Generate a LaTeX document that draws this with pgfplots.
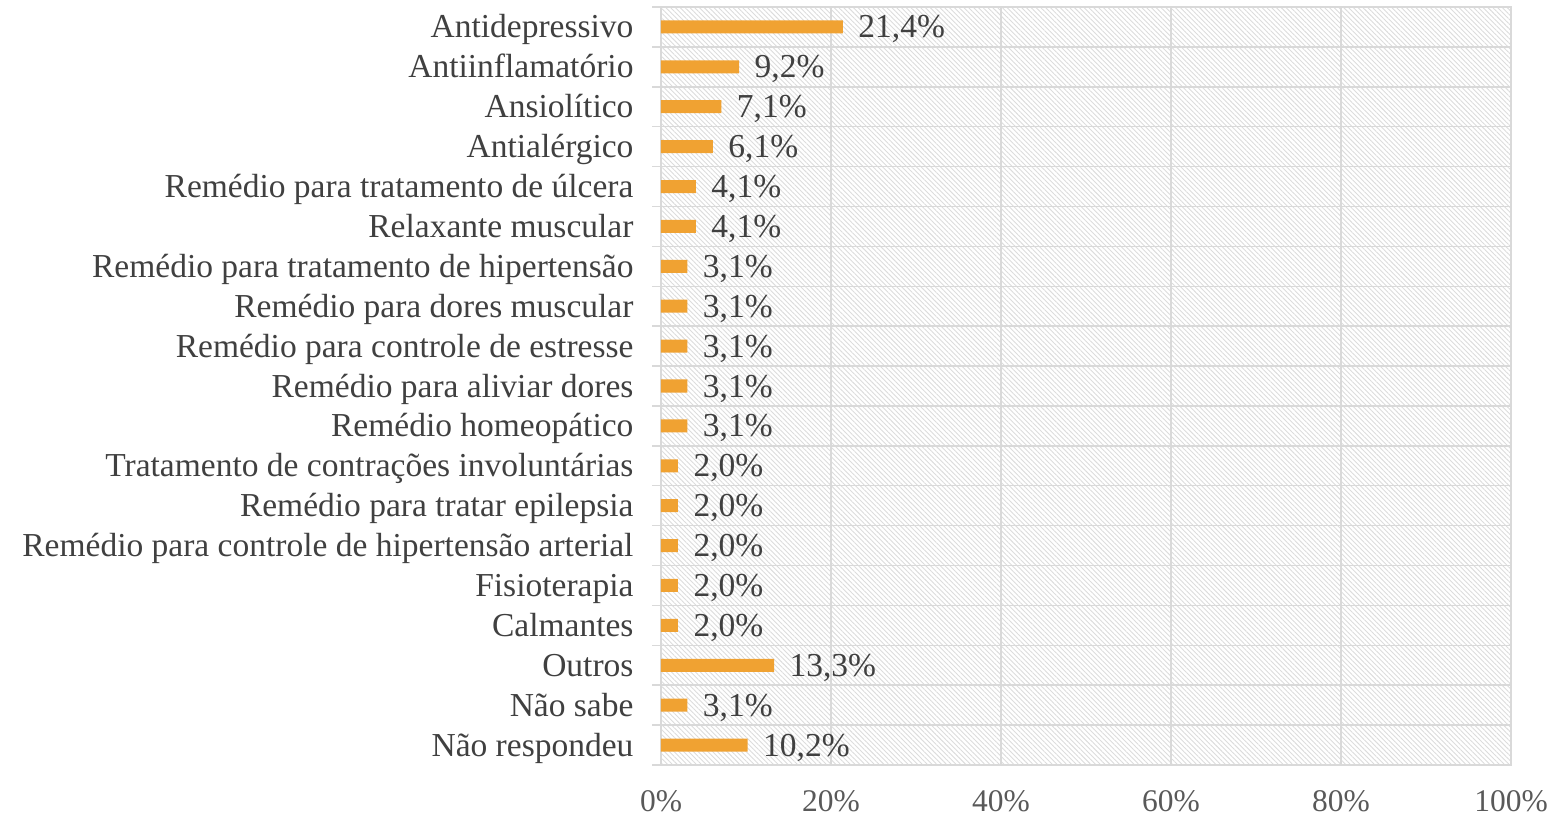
\documentclass[border=0pt]{standalone}
\usepackage{fontspec}
\setmainfont{Liberation Serif}
\usepackage{pgfplots}
\pgfplotsset{compat=1.18}
\usetikzlibrary{patterns.meta}
\definecolor{barc}{HTML}{F0A232}
\definecolor{txt}{HTML}{404040}
\definecolor{tck}{HTML}{595959}
\definecolor{grd}{HTML}{D9D9D9}
\definecolor{hatch}{HTML}{DCDCDC}
\begin{document}
\begin{tikzpicture}[x=1pt,y=1pt]
\useasboundingbox (0,0) rectangle (1564,818);
\begin{axis}[
  at={(661pt,53pt)}, anchor=south west,
  scale only axis, width=850pt, height=758pt,
  xbar, bar width=13pt,
  xmin=0, xmax=100,
  ymin=-0.5, ymax=18.5, y dir=reverse,
  ytick={0,...,18},
  yticklabels={Antidepressivo,Antiinflamatório,Ansiolítico,Antialérgico,Remédio para tratamento de úlcera,Relaxante muscular,Remédio para tratamento de hipertensão,Remédio para dores muscular,Remédio para controle de estresse,Remédio para aliviar dores,Remédio homeopático,Tratamento de contrações involuntárias,Remédio para tratar epilepsia,Remédio para controle de hipertensão arterial,Fisioterapia,Calmantes,Outros,Não sabe,Não respondeu},
  minor ytick={-0.5,0.5,...,18.5},
  yminorgrids=true,
  xtick={0,20,...,100},
  xticklabel={\pgfmathprintnumber{\tick}\%},
  /pgf/number format/assume math mode=true,
  xmajorgrids=true,
  major tick length=0pt, minor tick length=9pt,
  tick align=outside, ytick pos=left, xtick pos=bottom,
  grid style={grd, line width=1.5pt},
  minor tick style={grd, line width=1.5pt},
  axis line style={grd, line width=1.5pt},
  axis background/.style={pattern={Lines[angle=-45,distance=3.4pt,line width=0.9pt]}, pattern color=hatch},
  yticklabel style={font=\fontsize{33.5}{38}\selectfont, text=txt, text height=26pt, text depth=4pt, xshift=-24pt},
  xticklabel style={font=\fontsize{31.5}{36}\selectfont, text=tck, yshift=-22pt},
  nodes near coords={\pgfmathprintnumber[fixed,fixed zerofill,precision=1,use comma]{\pgfplotspointmeta}\%},
  nodes near coords align=horizontal,
  every node near coord/.append style={font=\fontsize{33.5}{38}\selectfont, text=txt, xshift=12pt, text height=26pt, text depth=4pt},
]
\addplot[fill=barc, draw=none] coordinates {
(21.4,0) (9.2,1) (7.1,2) (6.1,3) (4.1,4) (4.1,5) (3.1,6) (3.1,7) (3.1,8) (3.1,9) (3.1,10) (2.0,11) (2.0,12) (2.0,13) (2.0,14) (2.0,15) (13.3,16) (3.1,17) (10.2,18)
};
\end{axis}
\end{tikzpicture}
\end{document}
